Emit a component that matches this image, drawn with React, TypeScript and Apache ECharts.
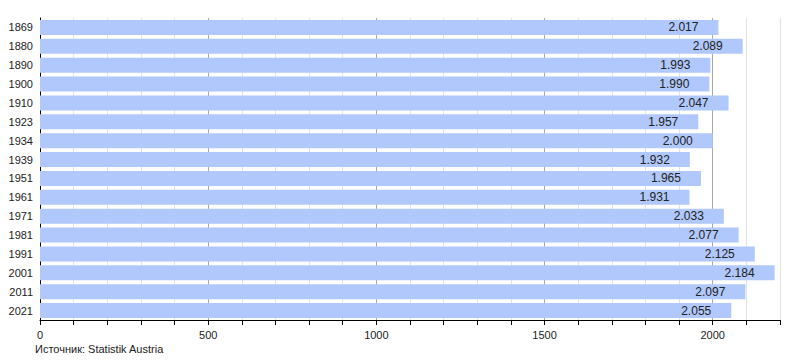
import React, { useEffect, useRef } from "react";
import * as echarts from "echarts";

const years = ["1869", "1880", "1890", "1900", "1910", "1923", "1934", "1939", "1951", "1961", "1971", "1981", "1991", "2001", "2011", "2021"];
const population = [2017, 2089, 1993, 1990, 2047, 1957, 2000, 1932, 1965, 1931, 2033, 2077, 2125, 2184, 2097, 2055];
const sourceText = "Источник: Statistik Austria";

const FONT = "'Liberation Sans', Arial, sans-serif";

function fmt(v: number): string {
  const s = String(Math.round(v));
  return s.replace(/\B(?=(\d{3})+(?!\d))/g, ".");
}

export default function App() {
  const ref = useRef<HTMLDivElement>(null);
  useEffect(() => {
    if (!ref.current) return;
    const chart = echarts.init(ref.current, undefined, { renderer: "svg" });
    const minor = "#e2e2e2";
    const major = "#a8a8a8";
    chart.setOption({
      animation: false,
      grid: { left: 40, right: 20, top: 18, bottom: 40, containLabel: false },
      xAxis: {
        type: "value",
        min: 0,
        max: 2200,
        interval: 100,
        axisLine: { show: true, lineStyle: { color: "#000", width: 1 } },
        axisTick: { show: true, length: 5, lineStyle: { color: "#000" } },
        axisLabel: {
          color: "#222",
          fontSize: 11,
          fontFamily: FONT,
          margin: 9,
          formatter: (v: number) => (v % 500 === 0 ? String(v) : ""),
        },
        splitLine: {
          show: true,
          showMinLine: true,
          showMaxLine: true,
          lineStyle: { color: [major, minor, minor, minor, minor], width: 1 },
        },
      },
      yAxis: {
        type: "category",
        data: years,
        inverse: true,
        axisLine: { show: true, lineStyle: { color: "#000", width: 1 } },
        axisTick: { show: false },
        axisLabel: { color: "#222", fontSize: 11, fontFamily: FONT, margin: 7 },
        splitLine: { show: false },
      },
      series: [
        {
          type: "bar",
          data: population,
          barCategoryGap: "21%",
          itemStyle: { color: "#b0c8fb" },
          label: {
            show: true,
            position: "insideRight",
            distance: 20,
            color: "#222",
            fontSize: 12,
            fontFamily: FONT,
            formatter: (p: any) => fmt(p.value),
          },
        },
      ],
      graphic: [
        {
          type: "text",
          left: 35,
          top: 343,
          style: { text: sourceText, fill: "#222", fontSize: 11, fontFamily: FONT },
        },
      ],
    });
    return () => chart.dispose();
  }, []);
  return <div ref={ref} style={{ width: 800, height: 360, position: "absolute", left: 0, top: 0 }} />;
}
